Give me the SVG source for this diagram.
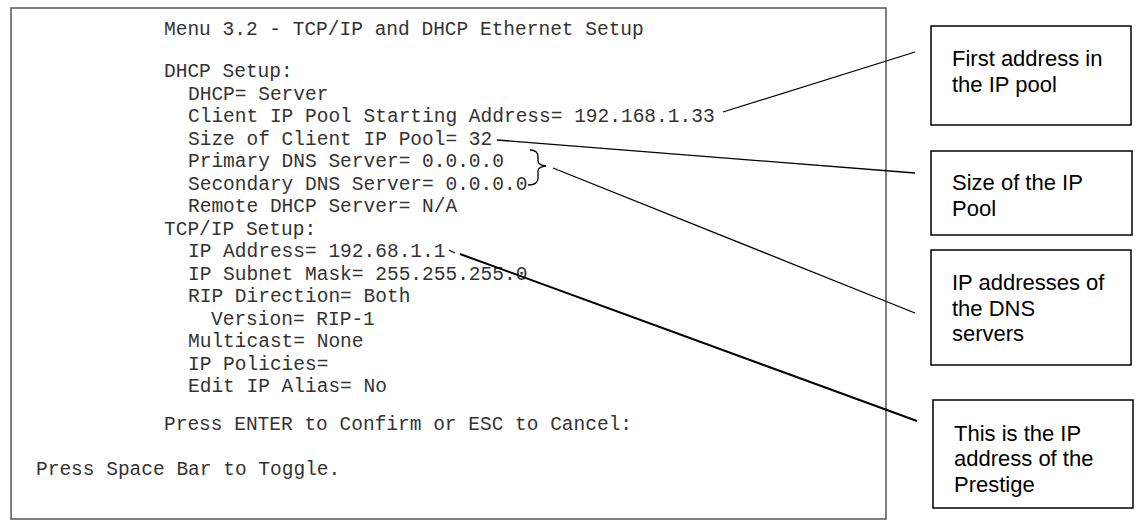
<svg xmlns="http://www.w3.org/2000/svg" width="1137" height="520" viewBox="0 0 1137 520">
<style>
.m{font-family:"Liberation Mono","Courier New",monospace;font-size:19.5px;fill:#333}
.c{font-family:"Liberation Sans",Arial,sans-serif;font-size:22px;fill:#000}
.b{fill:#fff;stroke:#000;stroke-width:1.5}
.l{stroke:#000;stroke-width:1.3;fill:none}
</style>
<rect width="1137" height="520" fill="#fff"/>
<g id="screen">
<rect x="11" y="8" width="875" height="511" fill="#fff" stroke="#555" stroke-width="1.5"/>
<text class="m" x="164" y="35">Menu 3.2 - TCP/IP and DHCP Ethernet Setup</text>
<text class="m" x="164" y="77">DHCP Setup:</text>
<text class="m" x="188" y="99.5">DHCP= Server</text>
<text class="m" x="188" y="122">Client IP Pool Starting Address= 192.168.1.33</text>
<text class="m" x="188" y="144.5">Size of Client IP Pool= 32</text>
<text class="m" x="188" y="167">Primary DNS Server= 0.0.0.0</text>
<text class="m" x="188" y="189.5">Secondary DNS Server= 0.0.0.0</text>
<text class="m" x="188" y="212">Remote DHCP Server= N/A</text>
<text class="m" x="164" y="234.5">TCP/IP Setup:</text>
<text class="m" x="188" y="257">IP Address= 192.68.1.1</text>
<text class="m" x="188" y="279.5">IP Subnet Mask= 255.255.255.0</text>
<text class="m" x="188" y="302">RIP Direction= Both</text>
<text class="m" x="211" y="324.5">Version= RIP-1</text>
<text class="m" x="188" y="347">Multicast= None</text>
<text class="m" x="188" y="369.5">IP Policies=</text>
<text class="m" x="188" y="392">Edit IP Alias= No</text>
<text class="m" x="164" y="430">Press ENTER to Confirm or ESC to Cancel:</text>
<text class="m" x="36" y="475">Press Space Bar to Toggle.</text>
</g>
<g id="connectors">
<path class="l" d="M723 112 L915 52"/>
<path class="l" d="M497 140 L915 173"/>
<path class="l" d="M530 150 Q538 150 538 157 L538 161 Q538 165 546 166 Q538 167 538 171 L538 178 Q538 185 528 185"/>
<path class="l" d="M553 168 L915 313"/>
<path class="l" d="M449 250 L455 253"/>
<path d="M460 254 L917 421" stroke="#000" stroke-width="2" fill="none"/>
</g>
<g id="n1"><rect class="b" x="931" y="26" width="200" height="99"/>
<text class="c" x="952" y="66">First address in</text><text class="c" x="952" y="92">the IP pool</text></g>
<g id="n2"><rect class="b" x="931" y="151" width="201" height="84"/>
<text class="c" x="952" y="190">Size of the IP</text><text class="c" x="952" y="216">Pool</text></g>
<g id="n3"><rect class="b" x="931" y="250" width="200" height="115"/>
<text class="c" x="952" y="290">IP addresses of</text><text class="c" x="952" y="316">the DNS</text><text class="c" x="952" y="341">servers</text></g>
<g id="n4"><rect class="b" x="933" y="400" width="200" height="108" stroke-width="2"/>
<text class="c" x="954" y="441">This is the IP</text><text class="c" x="954" y="466">address of the</text><text class="c" x="954" y="492">Prestige</text></g>
</svg>
